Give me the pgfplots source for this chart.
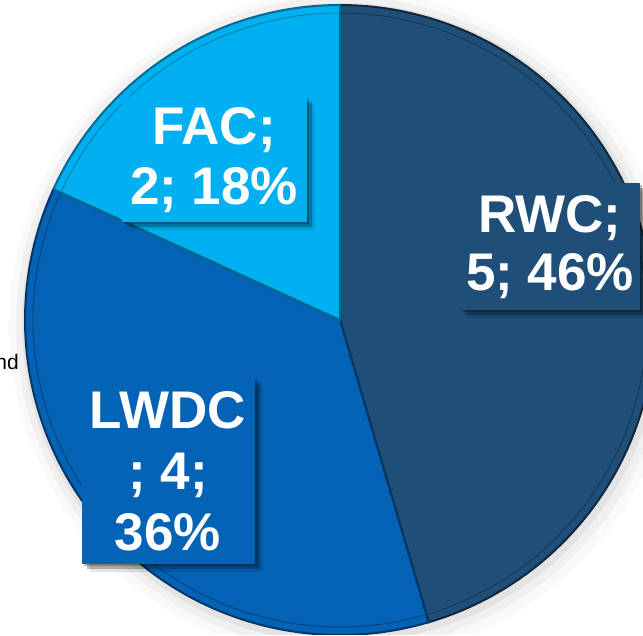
\documentclass[border=0pt]{standalone}
\usepackage{pgfplots}
\pgfplotsset{compat=1.18}
\usepackage{pgfplotstable}
\usepackage{fontspec}
\setmainfont{Liberation Sans}
\usetikzlibrary{shadows}

\definecolor{rwc}{RGB}{31,78,121}
\definecolor{lwdc}{RGB}{5,99,182}
\definecolor{fac}{RGB}{0,176,240}

\pgfplotstableread{
label value
RWC 5
LWDC 4
FAC 2
}\piedata

\tikzset{lblshadow/.style={
  general shadow={shadow xshift=2pt, shadow yshift=-2pt, fill=black, opacity=0.25},
  general shadow={shadow xshift=5pt, shadow yshift=-5pt, fill=black, opacity=0.25},
  general shadow={shadow xshift=8pt, shadow yshift=-8pt, fill=black, opacity=0.1}}}

\begin{document}%
\begin{tikzpicture}
\pgfplotstablegetelem{0}{value}\of\piedata \let\va\pgfplotsretval
\pgfplotstablegetelem{1}{value}\of\piedata \let\vb\pgfplotsretval
\pgfplotstablegetelem{2}{value}\of\piedata \let\vc\pgfplotsretval
\pgfmathsetmacro\total{\va+\vb+\vc}
\pgfmathsetmacro\aA{90}
\pgfmathsetmacro\aB{90-360*\va/\total}
\pgfmathsetmacro\aC{\aB-360*\vb/\total}
\pgfmathsetmacro\aD{\aC-360*\vc/\total}
\useasboundingbox[fill=white] (0,0) rectangle (643pt,635pt);
\begin{axis}[
  at={(0,0)}, anchor=south west,
  width=643pt, height=635pt, scale only axis,
  hide axis, clip=true, xtick=\empty, ytick=\empty,
  xmin=0, xmax=643, ymin=0, ymax=635,
]
% soft shadow around pie
\addplot[draw=none, fill=black, opacity=0.025, domain=0:360, samples=150, variable=\t] ({344+335*cos(\t)},{310+335*sin(\t)}) -- cycle;
\addplot[draw=none, fill=black, opacity=0.035, domain=0:360, samples=150, variable=\t] ({343+327*cos(\t)},{311+327*sin(\t)}) -- cycle;
\addplot[draw=none, fill=black, opacity=0.05, domain=0:360, samples=150, variable=\t] ({342+320*cos(\t)},{312+320*sin(\t)}) -- cycle;
% slices
\addplot[fill=rwc, draw=rwc!50!black, line width=2pt, domain=\aB:\aA, samples=100, variable=\t] ({340+315*cos(\t)},{315+315*sin(\t)}) -- (axis cs:340,315) -- cycle;
\addplot[fill=lwdc, draw=lwdc!55!black, line width=2pt, domain=\aC:\aB, samples=100, variable=\t] ({340+315*cos(\t)},{315+315*sin(\t)}) -- (axis cs:340,315) -- cycle;
\addplot[fill=fac, draw=fac!60!black, line width=2pt, domain=\aD:\aC, samples=60, variable=\t] ({340+315*cos(\t)},{315+315*sin(\t)}) -- (axis cs:340,315) -- cycle;
% inner bevel lines
\addplot[draw=rwc!70!black, line width=1pt, domain=\aB:\aA, samples=100, variable=\t] ({340+307*cos(\t)},{315+307*sin(\t)});
\addplot[draw=lwdc!70!black, line width=1pt, domain=\aC:\aB, samples=100, variable=\t] ({340+307*cos(\t)},{315+307*sin(\t)});
\addplot[draw=fac!75!black, line width=1pt, domain=\aD:\aC, samples=60, variable=\t] ({340+307*cos(\t)},{315+307*sin(\t)});
% labels
\node[fill=fac, lblshadow, text=white,
  font=\bfseries\fontsize{53}{60}\selectfont, align=center,
  minimum width=185pt, minimum height=125pt, inner sep=0pt] at (axis cs:214,475) {FAC;\\2; 18\%};
\node[fill=rwc, lblshadow, text=white,
  font=\bfseries\fontsize{53}{58}\selectfont, align=center,
  minimum width=180pt, minimum height=127pt, inner sep=0pt] at (axis cs:550,388) {RWC;\\5; 46\%};
\node[fill=lwdc, lblshadow, text=white,
  font=\bfseries\fontsize{53}{61}\selectfont, align=center,
  minimum width=173pt, minimum height=187pt, inner sep=0pt] at (axis cs:168,164) {LWDC\\; 4;\\36\%};
\node[anchor=base east, inner sep=0pt, font=\fontsize{21}{25}\selectfont] at (axis cs:19,265) {nd};
\end{axis}
\end{tikzpicture}%
\end{document}
